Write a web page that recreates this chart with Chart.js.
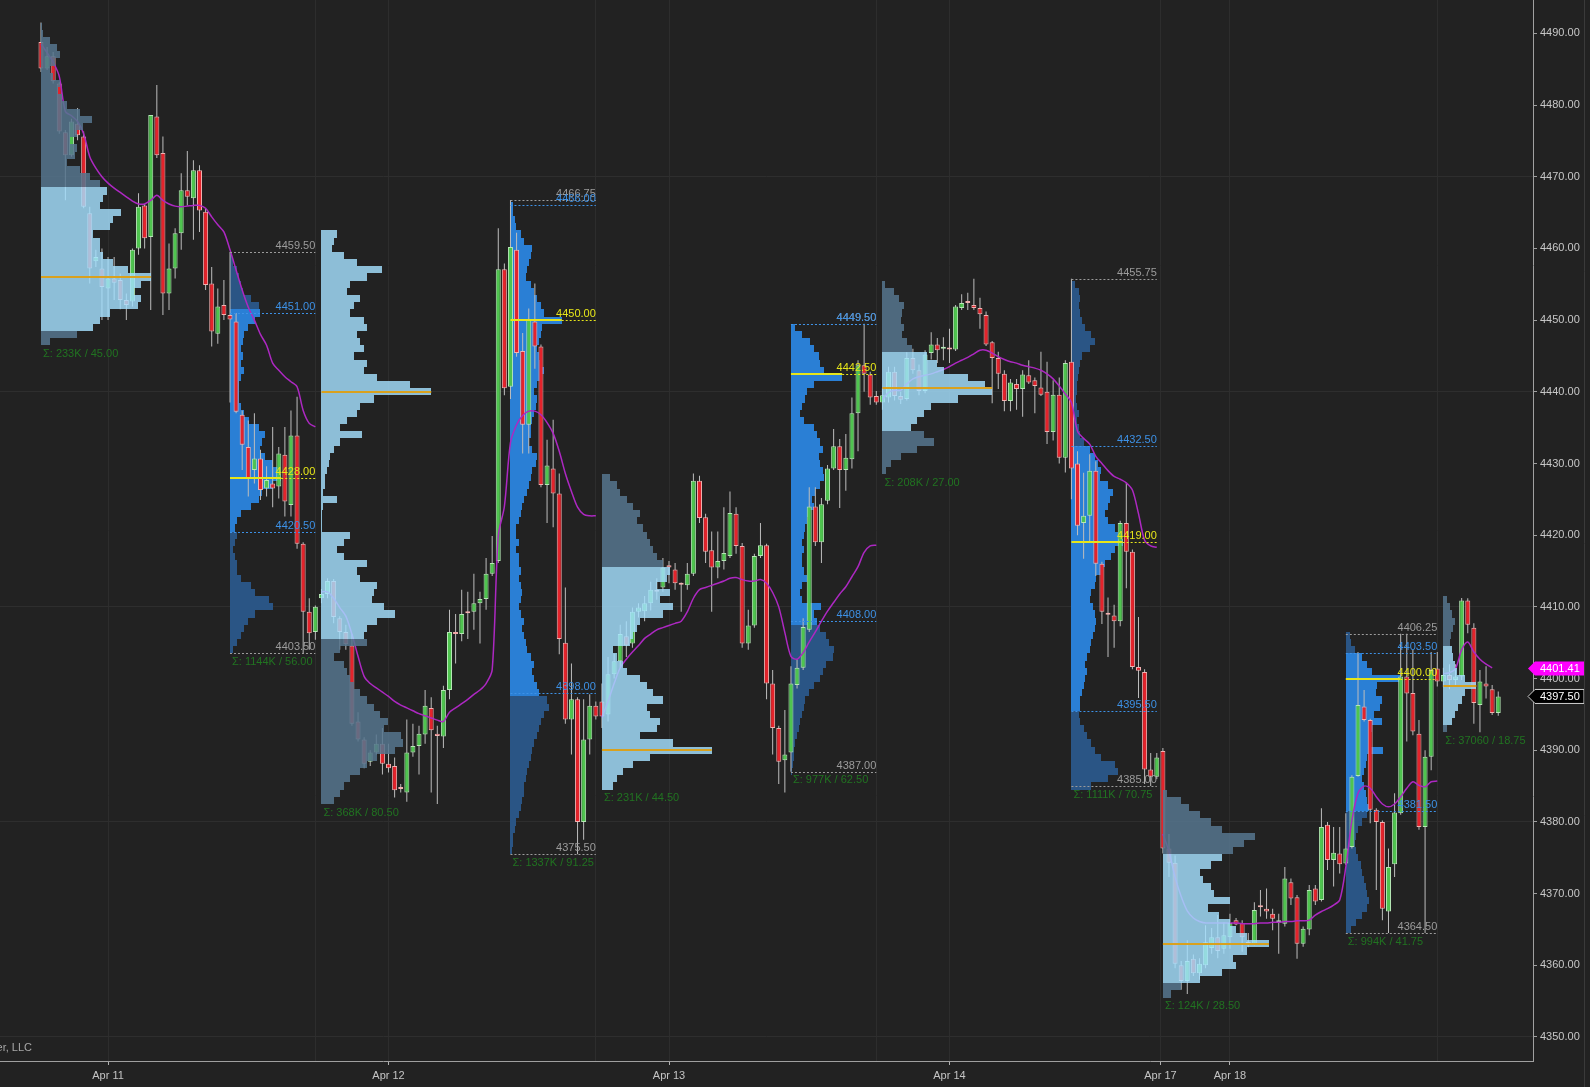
<!DOCTYPE html>
<html>
<head>
<meta charset="utf-8">
<script src="https://cdn.jsdelivr.net/npm/chart.js@4.4.0/dist/chart.umd.min.js"></script>
<style>
html, body { margin: 0; padding: 0; background: #222222; overflow: hidden; }
#wrap { width: 1590px; height: 1087px; }
</style>
</head>
<body>
<div id="wrap"><canvas id="chart" width="1590" height="1087"></canvas></div>
<script>
// 30 minute ES bars, Apr 11 - Apr 18 (bar index 0..239)
const opens = [
  4488.8,4485.1,4486.8,4483.0,4476.2,4473.0,4477.4,4475.6,4464.9,4458.2,
  4457.2,4454.4,4455.8,4455.6,4452.8,4452.6,4460.0,4466.0,4461.6,4478.4,
  4473.3,4453.7,4457.2,4462.1,4468.1,4467.0,4470.9,4465.1,4455.1,4448.1,
  4452.1,4450.7,4449.8,4436.8,4432.3,4429.1,4430.7,4426.5,4427.2,4426.8,
  4431.2,4424.2,4433.9,4418.8,4409.3,4406.5,
  4411.2,4411.8,4413.6,4408.4,4406.5,4404.6,4394.0,4391.5,4388.4,4389.7,
  4390.9,4388.1,4387.8,4384.7,4384.1,4389.7,4390.6,4392.2,4395.9,4392.3,
  4391.9,4398.4,4406.5,4406.2,4409.3,4409.3,4410.5,4411.1,4414.6,4416.4,
  4457.1,4440.7,4459.8,4445.7,4435.4,4449.8,4446.3,4427.0,4429.3,4425.8,
  4405.0,4394.3,4397.1,4380.0,4391.5,4396.2,
  4396.8,4395.0,4400.6,4402.4,4405.9,4404.9,4409.3,4409.4,4410.5,4412.4,
  4412.7,4415.8,4415.2,4413.2,4413.0,4414.6,4427.6,4422.5,4417.9,4415.5,
  4416.4,4417.1,4423.0,4418.5,4404.9,4407.4,4417.1,4418.6,4399.3,4393.1,
  4388.6,4389.7,4399.1,4401.5,4406.8,4424.0,4419.0,4424.8,4429.3,4432.4,
  4429.1,4430.6,4437.0,4443.7,4442.4,4439.4,
  4438.5,4439.2,4442.8,4439.4,4439.0,4444.7,4443.0,4440.1,4445.4,4446.6,
  4446.0,4446.1,4445.9,4451.7,4452.6,4452.1,4451.7,4450.7,4446.9,4444.7,
  4442.5,4438.7,4441.1,4440.4,4442.3,4441.6,4440.6,4440.0,4434.4,4439.6,
  4430.8,4444.2,4430.0,4421.7,4422.7,4429.0,4416.0,4409.0,4408.8,4408.0,
  4421.7,4417.7,4401.6,4400.9,4387.3,4386.3,
  4389.9,4376.3,4374.3,4360.0,4357.8,4360.9,4358.9,4360.0,4362.4,4363.9,
  4362.3,4363.9,4366.3,4365.9,4363.2,4363.0,4368.2,4367.9,4367.2,4366.0,
  4365.8,4371.6,4369.5,4363.0,4365.0,4370.7,4369.1,4379.6,4374.7,4375.6,
  4374.2,4376.5,4386.4,4396.1,4394.2,4381.7,4380.0,4367.5,4374.1,4381.2,
  4400.3,4398.0,4392.3,4379.3,4389.1,4401.4,
  4399.6,4400.5,4399.8,4400.3,4410.9,4407.1,4396.3,4399.3,4398.5,4395.2
];
const highs = [
  4491.5,4488.1,4487.4,4483.2,4476.5,4478.1,4479.6,4476.3,4465.8,4459.8,
  4460.0,4458.8,4458.8,4456.5,4453.7,4460.0,4467.7,4466.2,4478.6,4482.8,
  4475.6,4460.7,4462.8,4470.5,4473.6,4472.3,4471.6,4465.6,4457.4,4454.4,
  4455.6,4459.5,4451.0,4437.4,4436.0,4437.0,4431.9,4429.6,4435.1,4432.3,
  4435.1,4437.4,4439.3,4419.0,4411.2,4410.2,
  4412.5,4414.0,4413.9,4408.7,4407.5,4406.2,4395.3,4391.8,4390.0,4392.2,
  4393.1,4390.9,4389.0,4385.3,4394.3,4393.7,4393.4,4398.4,4397.4,4393.4,
  4399.0,4409.6,4409.0,4412.4,4412.1,4414.6,4412.1,4416.8,4419.9,4462.8,
  4457.9,4466.75,4462.2,4448.2,4451.6,4455.1,4446.6,4433.3,4436.1,4428.6,
  4412.7,4402.1,4397.4,4397.1,4397.8,4396.8,
  4399.3,4403.0,4403.5,4407.5,4408.0,4409.9,4410.5,4411.5,4413.5,4414.0,
  4416.8,4416.4,4416.1,4413.4,4416.1,4428.6,4428.3,4423.0,4420.5,4420.5,
  4423.9,4426.1,4423.9,4418.9,4409.6,4417.4,4421.7,4418.8,4401.2,4393.4,
  4395.6,4401.7,4402.7,4408.4,4426.7,4426.7,4425.2,4429.8,4434.8,4433.4,
  4434.1,4439.2,4444.4,4449.5,4442.8,4440.1,
  4440.5,4443.5,4443.5,4440.0,4445.5,4446.0,4443.8,4445.8,4448.3,4447.5,
  4447.6,4448.8,4452.1,4453.6,4453.8,4455.75,4453.1,4451.2,4447.1,4445.6,
  4443.0,4441.8,4441.8,4443.0,4444.4,4442.0,4445.6,4444.2,4441.6,4442.0,
  4444.4,4455.75,4431.7,4428.7,4431.3,4430.3,4416.3,4411.3,4410.3,4422.0,
  4427.3,4418.0,4408.6,4401.3,4389.6,4389.6,
  4390.3,4378.3,4375.3,4360.6,4363.5,4361.5,4361.0,4365.6,4365.2,4367.0,
  4366.0,4367.2,4366.6,4366.3,4364.5,4368.8,4370.5,4370.7,4367.9,4367.2,
  4373.7,4372.1,4369.8,4365.4,4371.2,4371.2,4381.9,4380.0,4379.3,4379.3,
  4381.2,4386.5,4403.7,4398.4,4394.4,4381.9,4380.2,4376.3,4384.0,4406.25,
  4406.25,4404.0,4394.2,4390.0,4403.7,4403.7,
  4401.5,4402.0,4402.0,4411.25,4411.2,4407.7,4401.2,4401.7,4399.1,4398.2
];
const lows = [
  4484.6,4484.9,4483.0,4476.0,4466.7,4472.8,4475.1,4465.6,4455.1,4457.4,
  4450.0,4450.0,4452.8,4451.5,4450.0,4451.9,4459.1,4460.0,4451.4,4472.6,
  4450.7,4451.4,4455.8,4459.8,4466.0,4461.2,4462.3,4454.2,4446.3,4446.7,
  4450.0,4438.5,4437.0,4429.1,4425.4,4427.2,4424.9,4425.4,4423.9,4425.1,
  4422.6,4422.6,4418.1,4403.5,4404.0,4405.4,
  4410.5,4411.2,4407.7,4404.0,4404.0,4393.4,4391.2,4387.5,4387.8,4389.4,
  4386.6,4386.9,4383.4,4384.1,4382.8,4389.1,4386.6,4390.9,4384.1,4382.5,
  4390.3,4397.1,4402.1,4405.2,4405.5,4406.8,4404.9,4409.6,4414.3,4416.1,
  4439.5,4439.0,4444.9,4431.4,4431.4,4443.2,4426.7,4421.7,4421.1,4403.4,
  4393.7,4389.4,4375.5,4377.5,4389.4,4394.3,
  4393.1,4394.0,4400.0,4401.5,4403.0,4404.3,4408.5,4408.0,4409.5,4411.0,
  4412.1,4413.3,4412.4,4409.3,4412.4,4414.3,4421.7,4416.1,4409.3,4414.0,
  4415.2,4416.8,4417.4,4404.3,4404.0,4407.1,4416.8,4397.1,4389.4,4385.3,
  4384.1,4387.0,4398.6,4401.2,4406.5,4418.5,4416.1,4424.3,4429.1,4423.8,
  4426.2,4429.3,4431.7,4440.0,4438.2,4438.2,
  4437.5,4438.5,4438.8,4438.3,4438.8,4442.5,4439.5,4439.8,4444.5,4444.0,
  4444.4,4444.0,4445.7,4451.4,4451.4,4451.4,4448.8,4446.4,4438.4,4440.4,
  4437.3,4437.3,4437.5,4436.5,4441.1,4437.0,4439.4,4432.7,4433.2,4430.0,
  4428.75,4425.0,4420.0,4416.7,4419.0,4414.3,4407.6,4403.0,4404.3,4407.3,
  4412.6,4401.3,4397.3,4385.3,4385.0,4386.0,
  4375.6,4372.3,4359.6,4356.6,4356.0,4358.5,4358.0,4359.6,4361.6,4361.0,
  4361.6,4362.3,4365.6,4361.9,4362.5,4362.8,4366.8,4366.5,4364.9,4361.6,
  4365.4,4368.4,4360.9,4362.6,4364.2,4368.4,4368.9,4373.3,4371.0,4372.8,
  4374.0,4376.3,4386.3,4394.0,4379.8,4370.5,4366.3,4364.5,4372.3,4381.0,
  4391.2,4392.1,4378.9,4364.5,4387.2,4398.9,
  4398.8,4398.5,4399.0,4399.8,4406.3,4393.7,4392.5,4397.2,4394.9,4394.8
];
const closes = [
  4485.1,4486.8,4483.3,4476.3,4473.0,4477.7,4475.8,4465.8,4457.2,4458.8,
  4454.6,4455.8,4455.2,4452.8,4452.1,4459.8,4465.8,4461.4,4478.6,4473.0,
  4453.7,4457.2,4462.1,4468.1,4467.2,4470.9,4465.3,4454.9,4448.4,4451.9,
  4450.7,4450.1,4437.2,4432.6,4427.9,4430.7,4426.3,4427.7,4426.5,4431.4,
  4424.7,4433.9,4418.8,4409.3,4406.3,4410.0,
  4411.8,4413.6,4408.6,4406.5,4404.8,4393.7,4391.5,4388.1,4389.7,4390.9,
  4388.1,4387.5,4384.4,4384.6,4389.7,4390.6,4392.3,4396.2,4392.8,4392.0,
  4398.4,4406.5,4406.2,4409.0,4409.1,4410.5,4411.1,4414.6,4416.1,4457.1,
  4440.5,4460.2,4445.4,4435.4,4450.1,4446.3,4427.0,4429.7,4425.8,4405.5,
  4394.3,4397.1,4380.0,4391.5,4396.2,4394.7,
  4394.7,4400.6,4402.4,4406.2,4404.6,4409.3,4409.9,4410.5,4412.4,4412.1,
  4415.5,4415.5,4413.3,4413.1,4414.6,4427.6,4422.4,4417.7,4415.5,4416.4,
  4417.5,4423.1,4418.5,4404.9,4407.4,4417.1,4418.6,4399.3,4393.1,4388.4,
  4389.4,4399.3,4401.5,4407.2,4424.0,4419.0,4424.3,4429.3,4432.4,4429.1,
  4430.8,4437.0,4443.7,4442.5,4439.2,4438.5,
  4439.5,4442.8,4439.4,4438.9,4444.7,4443.0,4440.1,4445.2,4446.6,4445.8,
  4446.0,4445.9,4451.9,4452.4,4452.4,4451.7,4450.8,4446.6,4444.7,4442.5,
  4438.7,4441.3,4440.4,4442.4,4441.3,4440.8,4439.6,4434.4,4439.6,4430.8,
  4444.0,4429.3,4421.3,4422.7,4429.0,4416.0,4409.3,4408.9,4408.0,4421.7,
  4417.7,4401.6,4401.1,4387.3,4386.3,4389.0,
  4376.3,4374.3,4360.2,4357.8,4360.6,4358.9,4360.2,4363.2,4363.9,4362.0,
  4364.2,4365.9,4365.7,4363.9,4363.0,4367.7,4368.1,4367.5,4366.5,4366.1,
  4372.1,4369.3,4363.0,4365.1,4370.5,4368.9,4379.3,4374.7,4375.7,4374.1,
  4376.3,4386.3,4396.3,4394.2,4381.7,4380.0,4367.9,4373.7,4381.3,4400.3,
  4397.9,4392.6,4379.3,4389.1,4401.2,4399.6,
  4400.5,4399.8,4400.3,4410.9,4407.5,4396.6,4399.6,4398.9,4395.2,4397.5
];
// session VWAP (resets every trading day)
const vwap = [
  4488.5,4487.3,4486.0,4484.0,4479.1,4478.5,4477.7,4476.0,4472.8,4471.2,
  4470.0,4469.1,4468.4,4467.8,4467.2,4466.6,4466.2,4466.2,4466.7,4467.4,
  4466.7,4466.2,4465.9,4465.8,4465.9,4466.0,4466.0,4465.6,4464.4,4463.3,
  4462.3,4459.8,4457.0,4454.2,4451.8,4450.0,4448.0,4446.5,4444.0,4443.0,
  4442.1,4441.4,4440.7,4437.4,4435.6,4435.1,
  4412.1,4412.1,4411.2,4409.9,4408.7,4406.2,4403.1,4400.3,4399.3,4398.7,
  4398.1,4397.5,4396.8,4396.3,4395.9,4395.5,4395.1,4394.8,4394.5,4394.2,
  4394.0,4395.3,4395.9,4396.5,4397.1,4397.8,4398.4,4399.3,4401.2,4419.9,
  4424.0,4432.9,4435.4,4436.7,4437.3,4437.3,4436.8,4435.7,4434.2,4431.7,
  4428.6,4426.1,4423.9,4422.9,4422.7,4422.7,
  4394.6,4396.8,4399.3,4401.5,4402.7,4403.7,4404.6,4405.6,4406.2,4406.8,
  4407.1,4407.4,4407.7,4408.0,4409.3,4411.2,4412.4,4412.7,4413.0,4413.3,
  4413.6,4414.0,4414.1,4413.8,4413.6,4413.6,4413.8,4413.3,4412.0,4410.0,
  4406.4,4403.1,4402.7,4403.6,4405.1,4406.5,4408.0,4409.4,4410.6,4411.8,
  4412.8,4414.2,4415.6,4417.6,4418.5,4418.6,
  4438.9,4439.9,4440.2,4440.2,4441.1,4441.8,4442.1,4442.3,4442.5,4442.8,
  4443.1,4443.5,4444.0,4444.4,4444.8,4445.3,4445.8,4445.8,4445.4,4444.9,
  4444.5,4444.2,4444.0,4443.7,4443.5,4443.3,4443.0,4442.5,4441.8,4440.8,
  4439.7,4438.5,4434.5,4433.5,4432.7,4431.0,4430.0,4429.0,4428.2,4427.8,
  4427.3,4426.3,4423.0,4419.3,4418.5,4418.3,
  4378.3,4375.9,4372.3,4369.6,4367.6,4366.6,4366.1,4365.9,4365.9,4365.9,
  4365.9,4365.9,4365.9,4365.8,4365.8,4365.8,4365.9,4365.9,4366.0,4366.0,
  4366.1,4366.1,4366.2,4366.2,4366.3,4367.0,4367.5,4367.9,4368.4,4369.1,
  4373.7,4380.2,4384.0,4385.0,4384.7,4383.5,4382.5,4382.1,4382.5,4383.5,
  4384.7,4385.6,4385.1,4384.9,4385.6,4385.7,
  4400.7,4400.8,4401.4,4404.0,4405.1,4403.7,4402.7,4402.0,4401.5,null
];
const vwapDayStart = [0, 46, 92, 138, 184, 230];
const vwapDayEnd = [45, 91, 137, 183, 229, 239];

// volume profile sessions (ETH = overnight, RTH = day session)
const sessStart = [0, 31, 46, 77, 92, 123, 138, 169, 184, 214, 230];
const sessEnd   = [30, 45, 76, 91, 122, 137, 168, 183, 213, 229, 239];
const sessKind  = ['ETH','RTH','ETH','RTH','ETH','RTH','ETH','RTH','ETH','RTH','ETH'];
const sessHigh  = [4491.5, 4459.50, 4463.0, 4466.75, 4428.5, 4449.50, 4455.75, 4455.75, 4384.5, 4406.25, 4411.25];
const sessLow   = [4446.5, 4403.50, 4382.5, 4375.50, 4384.0, 4387.00, 4428.75, 4385.00, 4356.0, 4364.50, 4392.5];
const sessPoc   = [4456.0, 4428.00, 4440.0, 4450.00, 4390.0, 4442.50, 4440.5, 4419.00, 4363.0, 4400.00, 4399.0];
const sessVah   = [4468.0, 4451.00, 4463.0, 4466.00, 4415.25, 4449.50, 4445.65, 4432.50, 4375.1, 4403.50, 4404.0];
const sessVal   = [4448.5, 4420.50, 4405.5, 4398.00, 4384.0, 4408.00, 4434.9, 4395.50, 4357.5, 4381.50, 4393.5];
const sessSigma = ['Σ: 233K / 45.00', 'Σ: 1144K / 56.00', 'Σ: 368K / 80.50', 'Σ: 1337K / 91.25',
                   'Σ: 231K / 44.50', 'Σ: 977K / 62.50', 'Σ: 208K / 27.00', 'Σ: 1111K / 70.75',
                   'Σ: 124K / 28.50', 'Σ: 994K / 41.75', 'Σ: 37060 / 18.75'];
// relative volume per 1 point row, from profTop downwards
const profTop = [4491, 4459, 4462, 4466, 4428, 4449, 4455, 4455, 4384, 4406, 4411];
const profVol = [
  [1,2,9,16,19,14,9,12,19,17,21,26,39,51,42,36,29,36,34,26,39,49,59,66,62,59,79,72,69,52,59,59,62,72,86,109,99,92,99,96,69,59,52,36,9],
  [2,3,7,8,10,12,20,27,28,23,17,13,12,10,12,10,13,10,8,8,8,10,13,18,27,33,30,28,33,40,45,48,40,30,27,20,10,7,5,7,5,3,5,7,7,10,20,23,37,40,23,17,13,10,7,3],
  [15,12,10,22,35,60,45,28,25,38,32,28,42,45,35,38,42,32,45,42,55,87,108,52,38,35,25,18,40,18,12,8,7,5,3,3,2,15,2,1,
   1,1,28,22,15,22,45,35,38,55,52,50,62,72,55,45,42,45,18,12,22,25,28,32,38,45,52,58,65,62,78,80,72,55,45,38,28,22,18,12],
  [3,3,5,6,10,13,21,20,18,16,15,20,23,26,30,33,51,31,30,28,26,28,31,33,30,26,23,26,25,23,21,20,20,18,21,26,25,21,20,18,
   16,13,11,10,8,6,6,8,6,8,8,10,8,10,11,10,8,10,13,11,13,15,16,20,23,21,23,26,28,36,38,33,30,28,26,23,21,20,18,16,
   15,13,13,11,10,8,6,5,3,3,2],
  [8,15,18,25,31,38,35,41,45,48,51,55,61,68,65,55,68,58,71,61,38,35,31,28,11,15,21,25,38,45,51,61,45,48,58,55,38,71,110,48,31,21,15,11],
  [4,11,19,23,28,29,34,52,23,16,14,11,9,13,23,26,29,33,28,29,33,34,29,24,21,23,19,16,14,13,11,13,11,11,13,16,11,9,11,31,
   23,26,29,36,39,44,43,36,33,29,23,18,14,13,11,9,8,6,4,3,3,2,1],
  [3,11,16,21,19,18,21,19,24,29,44,54,61,84,101,108,74,48,41,34,28,41,51,34,18,8,4],
  [4,8,9,8,9,11,14,19,23,18,11,9,8,7,6,6,5,6,8,6,8,9,13,18,23,26,29,28,36,41,38,36,33,36,43,46,51,43,39,33,
   29,24,23,19,18,21,23,24,23,21,19,18,16,14,16,14,13,11,9,9,8,9,13,16,19,23,29,43,46,36,19],
  [4,17,24,34,44,54,84,74,64,54,44,34,37,44,47,61,41,51,61,67,77,97,77,64,67,54,34,17,7],
  [4,5,9,15,20,25,52,30,29,34,32,27,34,25,24,22,35,20,19,17,15,17,19,20,22,20,15,12,10,9,10,12,14,15,17,19,20,22,20,15,10,5],
  [4,6,8,11,9,7,6,8,9,11,13,21,32,21,18,14,11,8,4]
];
const profWidthShare = 0.6; // widest row spans 60% of the session

const priceTicks = [4350,4360,4370,4380,4390,4400,4410,4420,4430,4440,4450,4460,4470,4480,4490];
const dayTickIdx = [11, 57, 103, 149, 183.6, 195];
const dayTickText = ['Apr 11', 'Apr 12', 'Apr 13', 'Apr 14', 'Apr 17', 'Apr 18'];
const closeGridIdx = [45, 91, 137, 229];
const lastVwap = 4401.41;
const lastPrice = 4397.50;

const FONT = '11px "Liberation Sans", Arial, sans-serif';
const C = {
  up: '#4fc44f', upLine: '#b5e8b5',
  down: '#e4232b', downLine: '#f2b0b0',
  wick: '#bdbdbd',
  vwap: '#ad28c2',
  ethVA: 'rgba(165, 225, 255, 0.82)', ethOut: 'rgba(86, 118, 142, 0.86)',
  rthVA: '#2a7fd5', rthOut: '#2a5585',
  ethPoc: '#d9a11e', rthPoc: '#e6e61a',
  grayLbl: '#9c9c9c', blueLbl: '#3d91e6', sigma: '#217321'
};

const idx = opens.map((_, i) => i);
const isUp = i => closes[i] >= opens[i];

const vwapSets = vwapDayStart.map((s, d) => ({
  type: 'line',
  data: idx.slice(s, vwapDayEnd[d] + 1).filter(i => vwap[i] !== null).map(i => ({x: i, y: vwap[i]})),
  borderColor: C.vwap,
  borderWidth: 1.5,
  pointRadius: 0,
  tension: 0.3,
  order: 1
}));

function X(chart, v) { return chart.scales.x.getPixelForValue(v); }
function Y(chart, v) { return chart.scales.y.getPixelForValue(v); }

function drawProfile(chart, s) {
  const ctx = chart.ctx;
  const vols = profVol[s];
  const maxV = Math.max(...vols);
  const span = profWidthShare * (sessEnd[s] - sessStart[s]);
  const x0 = Math.round(X(chart, sessStart[s]));
  const eth = sessKind[s] === 'ETH';
  vols.forEach((v, k) => {
    const p = profTop[s] - k;
    const yt = Math.round(Y(chart, p + 0.5)), yb = Math.round(Y(chart, p - 0.5));
    const x1 = Math.round(X(chart, sessStart[s] + span * v / maxV));
    const inVA = p <= sessVah[s] && p >= sessVal[s];
    ctx.fillStyle = eth ? (inVA ? C.ethVA : C.ethOut) : (inVA ? C.rthVA : C.rthOut);
    ctx.fillRect(x0, yt, Math.max(1, x1 - x0), yb - yt);
  });
}

function hLine(ctx, x0, x1, y, color, width, dash) {
  ctx.save();
  ctx.strokeStyle = color;
  ctx.lineWidth = width;
  ctx.setLineDash(dash || []);
  ctx.beginPath();
  const yy = width % 2 ? Math.round(y) + 0.5 : Math.round(y);
  ctx.moveTo(x0, yy);
  ctx.lineTo(x1, yy);
  ctx.stroke();
  ctx.restore();
}

function levelLabel(ctx, text, xr, y, color) {
  ctx.fillStyle = color;
  ctx.textAlign = 'right';
  ctx.textBaseline = 'bottom';
  ctx.fillText(text, xr, Math.round(y) - 1);
}

function drawMarks(chart, s) {
  const ctx = chart.ctx;
  const x0 = X(chart, sessStart[s]);
  const x1 = X(chart, sessEnd[s]);
  const xPoc = X(chart, sessStart[s] + profWidthShare * (sessEnd[s] - sessStart[s]));
  ctx.font = FONT;
  if (sessKind[s] === 'ETH') {
    hLine(ctx, x0, xPoc, Y(chart, sessPoc[s]), C.ethPoc, 2);
    ctx.fillStyle = C.sigma;
    ctx.textAlign = 'left';
    ctx.textBaseline = 'top';
    ctx.fillText(sessSigma[s], x0 + 2, Y(chart, profTop[s] - profVol[s].length + 0.5) + 3);
    return;
  }
  const dot = [2, 2];
  [[sessHigh[s], C.grayLbl], [sessLow[s], C.grayLbl], [sessVah[s], C.blueLbl], [sessVal[s], C.blueLbl]].forEach(([v, col]) => {
    const y = Y(chart, v);
    hLine(ctx, x0, x1, y, col, 1, dot);
    levelLabel(ctx, v.toFixed(2), x1, y, col);
  });
  const yp = Y(chart, sessPoc[s]);
  hLine(ctx, x0, xPoc, yp, C.rthPoc, 2);
  hLine(ctx, xPoc, x1, yp, C.rthPoc, 1, dot);
  levelLabel(ctx, sessPoc[s].toFixed(2), x1, yp, C.rthPoc);
  ctx.fillStyle = C.sigma;
  ctx.textAlign = 'left';
  ctx.textBaseline = 'top';
  ctx.fillText(sessSigma[s], x0 + 2, Y(chart, sessLow[s]) + 3);
}

function priceTag(ctx, xAxis, y, text, fill, stroke, color) {
  const h = 14, tip = xAxis - 5, bx = xAxis + 2, bw = 49;
  ctx.beginPath();
  ctx.moveTo(tip, y);
  ctx.lineTo(bx, y - h / 2);
  ctx.lineTo(bx + bw, y - h / 2);
  ctx.lineTo(bx + bw, y + h / 2);
  ctx.lineTo(bx, y + h / 2);
  ctx.closePath();
  ctx.fillStyle = fill;
  ctx.fill();
  if (stroke) { ctx.strokeStyle = stroke; ctx.lineWidth = 1; ctx.stroke(); }
  ctx.fillStyle = color;
  ctx.font = FONT;
  ctx.textAlign = 'left';
  ctx.textBaseline = 'middle';
  ctx.fillText(text, bx + 5, y + 1);
}

const profilePlugin = {
  id: 'profiles',
  beforeDatasetsDraw(chart) {
    const {ctx, chartArea: a} = chart;
    ctx.save();
    ctx.beginPath(); ctx.rect(a.left, a.top, a.width, a.height); ctx.clip();
    sessKind.forEach((k, s) => { if (k === 'RTH') drawProfile(chart, s); });
    ctx.restore();
  },
  afterDatasetsDraw(chart) {
    const {ctx, chartArea: a} = chart;
    ctx.save();
    ctx.beginPath(); ctx.rect(a.left, a.top, a.width, a.height); ctx.clip();
    sessKind.forEach((k, s) => { if (k === 'ETH') drawProfile(chart, s); });
    sessKind.forEach((k, s) => drawMarks(chart, s));
    ctx.restore();
  },
  afterDraw(chart) {
    const {ctx, chartArea: a} = chart;
    ctx.save();
    priceTag(ctx, a.right, Y(chart, lastVwap), lastVwap.toFixed(2), '#ff00ff', null, '#ffffff');
    priceTag(ctx, a.right, Y(chart, lastPrice), lastPrice.toFixed(2), '#000000', '#d0d0d0', '#ffffff');
    ctx.font = FONT;
    ctx.fillStyle = '#a8a8a8';
    ctx.textAlign = 'right';
    ctx.textBaseline = 'middle';
    ctx.fillText('© 2023 NinjaTrader, LLC', a.left + 32, a.bottom - 13);
    ctx.strokeStyle = '#3a3a3a';
    ctx.beginPath();
    ctx.moveTo(a.right + 51.5, 0);
    ctx.lineTo(a.right + 51.5, chart.height);
    ctx.stroke();
    ctx.restore();
  }
};

new Chart(document.getElementById('chart'), {
  type: 'bar',
  data: {
    datasets: [
      {
        data: idx.map(i => ({x: i, y: [lows[i], highs[i]]})),
        backgroundColor: C.wick,
        barThickness: 1,
        grouped: false,
        inflateAmount: 0,
        borderWidth: 0,
        order: 3
      },
      {
        data: idx.map(i => ({x: i, y: [opens[i], closes[i]]})),
        backgroundColor: ctx => isUp(ctx.dataIndex) ? C.up : C.down,
        borderColor: ctx => isUp(ctx.dataIndex) ? C.upLine : C.downLine,
        borderWidth: 1,
        borderSkipped: false,
        barThickness: 5,
        minBarLength: 2,
        grouped: false,
        inflateAmount: 0,
        order: 2
      },
      ...vwapSets
    ]
  },
  options: {
    responsive: false,
    animation: false,
    devicePixelRatio: 1,
    layout: { padding: 0 },
    plugins: { legend: { display: false }, tooltip: { enabled: false } },
    scales: {
      x: {
        type: 'linear',
        min: -6.72,
        max: 244.7,
        offset: false,
        afterBuildTicks: axis => {
          axis.ticks = [...dayTickIdx, ...closeGridIdx].sort((a, b) => a - b).map(v => ({value: v}));
        },
        afterFit: axis => { axis.height = 26; axis.paddingLeft = 0; axis.paddingRight = 0; },
        ticks: {
          autoSkip: false,
          maxRotation: 0,
          padding: 4,
          color: '#c4c4c4',
          font: { family: '"Liberation Sans", Arial, sans-serif', size: 11 },
          callback: v => { const k = dayTickIdx.indexOf(v); return k >= 0 ? dayTickText[k] : ''; }
        },
        grid: {
          offset: false,
          color: '#2d2d2d',
          tickLength: 4,
          tickColor: ctx => dayTickIdx.includes(ctx.tick && ctx.tick.value) ? '#b0b0b0' : 'rgba(0,0,0,0)'
        },
        border: { color: '#a0a0a0', width: 1 }
      },
      y: {
        type: 'linear',
        position: 'right',
        min: 4346.65,
        max: 4494.65,
        afterBuildTicks: axis => { axis.ticks = priceTicks.map(v => ({value: v})); },
        afterFit: axis => { axis.width = 57; axis.paddingTop = 0; axis.paddingBottom = 0; },
        ticks: {
          padding: 3,
          color: '#c8c8c8',
          font: { family: '"Liberation Sans", Arial, sans-serif', size: 11 },
          callback: v => Number(v).toFixed(2)
        },
        grid: {
          color: ctx => (ctx.tick && ctx.tick.value % 30 === 0) ? '#2e2e2e' : 'rgba(0,0,0,0)',
          tickLength: 4,
          tickColor: '#a0a0a0'
        },
        border: { color: '#a0a0a0', width: 1 }
      }
    }
  },
  plugins: [profilePlugin]
});
</script>
</body>
</html>
